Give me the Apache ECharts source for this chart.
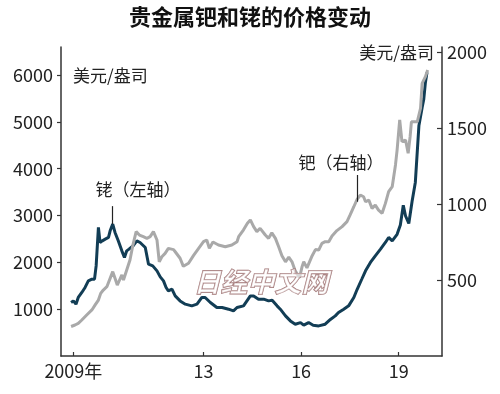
<!DOCTYPE html>
<html><head><meta charset="utf-8">
<script src="https://cdn.jsdelivr.net/npm/echarts@6/dist/echarts.min.js"></script>
<style>html,body{margin:0;padding:0;background:#fff}#c{width:500px;height:394px}</style>
</head><body><div id="c"></div>
<script>
// Rhodium (left axis, USD/oz)
const rhodiumYears = [2008.93,2009.00,2009.08,2009.15,2009.26,2009.36,2009.46,2009.57,2009.65,2009.70,2009.77,2009.82,2009.89,2009.98,2010.08,2010.13,2010.21,2010.28,2010.38,2010.49,2010.57,2010.64,2010.71,2010.83,2010.95,2011.05,2011.21,2011.31,2011.44,2011.57,2011.67,2011.77,2011.85,2011.92,2012.03,2012.13,2012.28,2012.44,2012.64,2012.80,2012.95,2013.05,2013.21,2013.41,2013.57,2013.77,2013.92,2014.03,2014.23,2014.44,2014.54,2014.69,2014.85,2015.00,2015.11,2015.26,2015.36,2015.52,2015.67,2015.82,2015.98,2016.08,2016.23,2016.37,2016.54,2016.74,2016.90,2017.05,2017.15,2017.31,2017.46,2017.62,2017.72,2017.87,2017.98,2018.13,2018.28,2018.44,2018.59,2018.69,2018.80,2018.95,2019.05,2019.14,2019.21,2019.31,2019.41,2019.51,2019.62,2019.72,2019.77,2019.82,2019.87];
const rhodiumPrices = [1143,1177,1107,1250,1357,1464,1605,1641,1641,1925,2746,2425,2460,2496,2532,2674,2816,2639,2460,2246,2104,2246,2282,2350,2460,2425,2318,1961,1925,1818,1690,1605,1464,1391,1427,1284,1177,1107,1071,1107,1250,1250,1143,1036,1036,1000,964,1036,1071,1284,1284,1214,1214,1177,1190,1071,1000,857,750,679,714,658,714,658,643,679,780,857,929,1000,1071,1250,1420,1650,1820,1998,2140,2282,2425,2532,2460,2600,2800,3220,2990,2830,3300,3707,4917,5310,5487,5844,6058];
// Palladium (right axis, USD/oz)
const palladiumYears = [2008.93,2009.05,2009.15,2009.26,2009.41,2009.57,2009.67,2009.77,2009.84,2009.92,2010.03,2010.13,2010.21,2010.28,2010.35,2010.42,2010.49,2010.54,2010.64,2010.74,2010.83,2010.93,2011.03,2011.15,2011.26,2011.36,2011.46,2011.57,2011.64,2011.72,2011.82,2011.92,2011.97,2012.08,2012.13,2012.28,2012.38,2012.54,2012.69,2012.85,2013.00,2013.10,2013.18,2013.29,2013.46,2013.67,2013.87,2014.03,2014.08,2014.23,2014.35,2014.44,2014.54,2014.64,2014.74,2014.90,2015.00,2015.10,2015.21,2015.31,2015.41,2015.52,2015.62,2015.72,2015.82,2015.95,2016.03,2016.08,2016.18,2016.34,2016.44,2016.54,2016.64,2016.74,2016.85,2016.95,2017.10,2017.26,2017.41,2017.51,2017.62,2017.72,2017.82,2017.92,2017.98,2018.08,2018.18,2018.28,2018.38,2018.49,2018.59,2018.69,2018.80,2018.90,2018.95,2019.03,2019.10,2019.21,2019.29,2019.35,2019.39,2019.57,2019.67,2019.72,2019.82,2019.89];
const palladiumPrices = [194,204,215,237,270,303,336,368,412,434,456,511,555,511,467,500,533,500,566,632,730,818,796,785,774,785,818,763,620,653,675,708,719,700,686,643,590,610,660,708,752,763,708,750,730,719,730,752,785,830,873,895,851,818,840,796,774,810,774,719,660,620,650,620,560,515,588,620,580,660,700,697,741,752,752,790,825,851,884,930,982,1030,1059,1048,1015,1026,971,993,960,939,1004,1081,1114,1257,1355,1553,1410,1421,1334,1443,1541,1541,1630,1794,1838,1882];

const xTicks = [2009, 2013, 2016, 2019];
const leftTicks = [1000, 2000, 3000, 4000, 5000, 6000];
const rightTicks = [500, 1000, 1500, 2000];

const FONT = '"Noto Sans CJK SC", "Noto Sans", sans-serif';
const AX = '#333';

const rhData = rhodiumYears.map((y, i) => [y, rhodiumPrices[i]]);
const pdData = palladiumYears.map((y, i) => [y, palladiumPrices[i]]);

const plain = v => String(Math.round(v));

const chart = echarts.init(document.getElementById('c'), null, {renderer: 'canvas'});
chart.setOption({
  backgroundColor: '#fff',
  animation: false,
  grid: {left: 61, right: 58, top: 47, bottom: 38},
  xAxis: {
    type: 'value', min: 2008.62, max: 2020.33,
    axisLine: {show: true, lineStyle: {color: AX, width: 1.5}},
    axisTick: {show: true, inside: true, length: 4, customValues: xTicks, lineStyle: {color: AX, width: 1.2}},
    axisLabel: {customValues: xTicks, fontSize: 18, color: '#222', margin: 6, fontFamily: FONT,
      formatter: v => (Math.round(v) === 2009 ? '2009年' : String(Math.round(v)).slice(2))},
    splitLine: {show: false}
  },
  yAxis: [{
    type: 'value', min: 0, max: 6600, position: 'left',
    axisLine: {show: true, lineStyle: {color: AX, width: 1.5}},
    axisTick: {show: true, inside: false, length: 4, customValues: leftTicks, lineStyle: {color: AX, width: 1.2}},
    axisLabel: {customValues: leftTicks, fontSize: 18, color: '#222', margin: 8, fontFamily: FONT, formatter: plain},
    splitLine: {show: false}
  }, {
    type: 'value', min: 0, max: 2033, position: 'right',
    axisLine: {show: true, lineStyle: {color: AX, width: 1.5}},
    axisTick: {show: true, inside: true, length: 5, customValues: rightTicks, lineStyle: {color: AX, width: 1.2}},
    axisLabel: {customValues: rightTicks, fontSize: 18, color: '#222', margin: 5, fontFamily: FONT, formatter: plain},
    splitLine: {show: false}
  }],
  series: [{
    name: '铑', type: 'line', yAxisIndex: 0, data: rhData, showSymbol: false,
    lineStyle: {color: '#123d55', width: 3}, z: 2,
    markLine: {silent: true, symbol: 'none', label: {show: false},
      lineStyle: {color: '#222', width: 1.2, type: 'solid'},
      data: [[{coord: [2010.21, 2816]}, {coord: [2010.21, 3201]}]]}
  }, {
    name: '钯', type: 'line', yAxisIndex: 1, data: pdData, showSymbol: false,
    lineStyle: {color: '#a9a9a9', width: 3}, z: 3,
    markLine: {silent: true, symbol: 'none', label: {show: false},
      lineStyle: {color: '#222', width: 1.2, type: 'solid'},
      data: [[{coord: [2017.72, 1015]}, {coord: [2017.72, 1191]}]]}
  }],
  graphic: [
    {type: 'text', left: 'center', top: 6, style: {text: '贵金属钯和铑的价格变动', font: 'bold 22px ' + FONT, fill: '#111'}},
    {type: 'text', x: 73, y: 76, style: {text: '美元/盎司', font: '17px ' + FONT, fill: '#222', verticalAlign: 'middle'}},
    {type: 'text', x: 434, y: 53, style: {text: '美元/盎司', font: '17px ' + FONT, fill: '#222', align: 'right', verticalAlign: 'middle'}},
    {type: 'text', x: 138, y: 190, style: {text: '铑（左轴）', font: '17px ' + FONT, fill: '#222', align: 'center', verticalAlign: 'middle'}},
    {type: 'text', x: 341, y: 163, style: {text: '钯（右轴）', font: '17px ' + FONT, fill: '#222', align: 'center', verticalAlign: 'middle'}},
    {type: 'text', x: 261, y: 282, z: 100, style: {text: '日经中文网', font: 'italic bold 27px ' + FONT, fill: 'rgba(255,255,255,0.55)', stroke: '#a07474', lineWidth: 1.2, align: 'center', verticalAlign: 'middle'}}
  ]
});
</script></body></html>
